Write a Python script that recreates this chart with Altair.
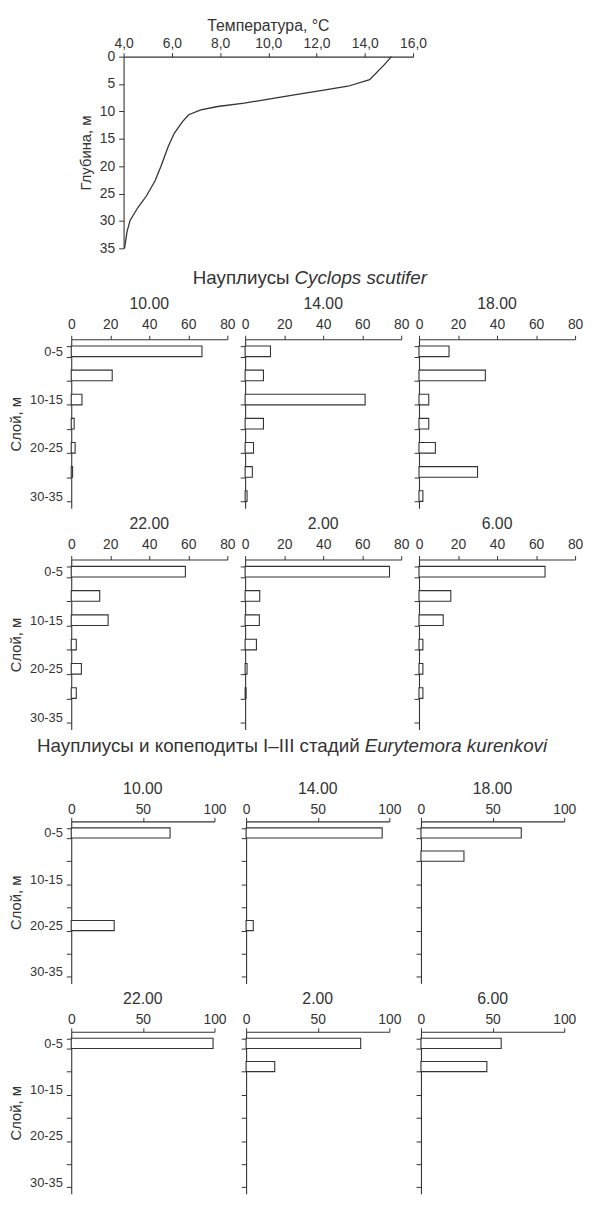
import altair as alt
import pandas as pd

FONT = "Liberation Sans"
INK = "#333333"

# ---- temperature profile ----
temp_depth = [0, 1.5, 4.2, 5.4, 6.1, 6.9, 7.6, 8.5, 9.1, 9.7, 10.6, 11.8, 14.0, 16.4, 20.0, 22.7, 25.4, 27.5, 29.9, 32.0, 35.0]
temp_value = [15.1, 14.8, 14.2, 13.3, 12.3, 11.2, 10.2, 9.0, 7.9, 7.2, 6.7, 6.45, 6.1, 5.85, 5.55, 5.3, 4.95, 4.6, 4.27, 4.14, 4.04]
temp_ticks = [4, 6, 8, 10, 12, 14, 16]
depth_ticks = [0, 5, 10, 15, 20, 25, 30, 35]

# ---- layers and times ----
layers = ["0-5", "5-10", "10-15", "15-20", "20-25", "25-30", "30-35"]
shown_layers = ["0-5", "10-15", "20-25", "30-35"]
times_day = ["10.00", "14.00", "18.00"]
times_night = ["22.00", "2.00", "6.00"]

# ---- Cyclops scutifer nauplii ----
cyclops_1000 = [67, 21, 5.5, 1.5, 2, 0.7, 0]
cyclops_1400 = [13, 9.4, 61.5, 9.4, 4.3, 3.7, 1]
cyclops_1800 = [15.4, 34, 5, 5, 8.4, 30, 2]
cyclops_2200 = [58.5, 14.6, 18.9, 2.6, 5.2, 2.6, 0]
cyclops_0200 = [74, 7.5, 7.3, 5.8, 1, 0.5, 0]
cyclops_0600 = [64.6, 16.3, 12.4, 2, 2, 2, 0]
cyclops_ticks = [0, 20, 40, 60, 80]

# ---- Eurytemora kurenkovi nauplii & copepodites I-III ----
eury_1000 = [69, 0, 0, 0, 30, 0, 0]
eury_1400 = [95, 0, 0, 0, 5, 0, 0]
eury_1800 = [70, 30, 0, 0, 0, 0, 0]
eury_2200 = [99, 0, 0, 0, 0, 0, 0]
eury_0200 = [80, 20, 0, 0, 0, 0, 0]
eury_0600 = [56, 46, 0, 0, 0, 0, 0]
eury_ticks = [0, 50, 100]

title1_normal = "Науплиусы"
title1_italic = "Cyclops scutifer"
title2_normal = "Науплиусы и копеподиты I–III стадий"
title2_italic = "Eurytemora kurenkovi"


def bar_panel(values, time_label, ticks, width, height, first, label_pad, title_offset):
    df = pd.DataFrame({"layer": layers, "value": values})
    label_expr = "indexof(%s, datum.value) >= 0 ? datum.value : ''" % str(shown_layers).replace("'", '"')
    if first:
        yaxis = alt.Axis(title="Слой, м", labels=True, labelExpr=label_expr, tickBand="extent",
                         tickSize=5, labelPadding=4, titlePadding=6, labelFontSize=13, titleFontSize=15)
    else:
        yaxis = alt.Axis(title=None, labels=False, tickBand="extent", tickSize=5)
    return (
        alt.Chart(df, title=alt.TitleParams(time_label, fontSize=16, offset=title_offset))
        .transform_filter("datum.value > 0")
        .mark_bar(fill="white", stroke=INK, strokeWidth=1.1)
        .encode(
            x=alt.X("value:Q",
                    scale=alt.Scale(domain=[ticks[0], ticks[-1]], nice=False, zero=True),
                    axis=alt.Axis(orient="top", values=ticks, title=None, tickSize=4,
                                  labelPadding=label_pad, labelFontSize=14)),
            y=alt.Y("layer:N", sort=layers,
                    scale=alt.Scale(domain=layers, paddingInner=0.56, paddingOuter=0.28),
                    axis=yaxis),
        )
        .properties(width=width, height=height)
    )


def group_title(normal, italic, split_x, height, y, size):
    df = pd.DataFrame({"a": [normal], "b": [italic]})
    base = alt.Chart(df)
    t1 = base.mark_text(align="right", baseline="middle", fontSize=size, font=FONT, color=INK).encode(
        x=alt.value(split_x), y=alt.value(y), text="a:N")
    t2 = base.mark_text(align="left", baseline="middle", fontSize=size, font=FONT, color=INK,
                        fontStyle="italic").encode(
        x=alt.value(split_x + 5), y=alt.value(y), text="b:N")
    return alt.layer(t1, t2).properties(width=400, height=height)


temp_df = pd.DataFrame({"depth": temp_depth, "temp": temp_value})
temp = (
    alt.Chart(temp_df, title=alt.TitleParams("Температура, °C", fontSize=16, offset=3))
    .mark_line(color=INK, strokeWidth=1.3)
    .encode(
        x=alt.X("temp:Q", scale=alt.Scale(domain=[4, 16], nice=False, zero=False),
                axis=alt.Axis(orient="top", values=temp_ticks, title=None, tickSize=4, labelPadding=2,
                              labelFontSize=14,
                              labelExpr="replace(format(datum.value, '.1f'), '.', ',')")),
        y=alt.Y("depth:Q", scale=alt.Scale(domain=[0, 35], reverse=True, nice=False, zero=True),
                axis=alt.Axis(values=depth_ticks, title="Глубина, м", tickSize=5, labelPadding=4,
                              titlePadding=6, labelFontSize=14, titleFontSize=15)),
        order="depth:Q",
    )
    .properties(width=293, height=194)
)

spacer = (
    alt.Chart(pd.DataFrame({"s": [""]}))
    .mark_text()
    .encode(text="s:N", x=alt.value(10), y=alt.value(10))
    .properties(width=53, height=20)
)

day_c = [cyclops_1000, cyclops_1400, cyclops_1800]
night_c = [cyclops_2200, cyclops_0200, cyclops_0600]
day_e = [eury_1000, eury_1400, eury_1800]
night_e = [eury_2200, eury_0200, eury_0600]

row1 = alt.hconcat(*[bar_panel(v, t, cyclops_ticks, 158, 171, i == 0, 4, 6)
                     for i, (v, t) in enumerate(zip(day_c, times_day))], spacing=18, bounds="flush")
row2 = alt.hconcat(*[bar_panel(v, t, cyclops_ticks, 158, 172, i == 0, 4, 6)
                     for i, (v, t) in enumerate(zip(night_c, times_night))], spacing=18, bounds="flush")
row3 = alt.hconcat(*[bar_panel(v, t, eury_ticks, 145, 164, i == 0, 1, 6)
                     for i, (v, t) in enumerate(zip(day_e, times_day))], spacing=32, bounds="flush")
row4 = alt.hconcat(*[bar_panel(v, t, eury_ticks, 145, 164, i == 0, 1, 6)
                     for i, (v, t) in enumerate(zip(night_e, times_night))], spacing=32, bounds="flush")

g1 = group_title(title1_normal, title1_italic, 221, 22, 15, 19)
g2 = group_title(title2_normal, title2_italic, 292, 33, 6, 19)

chart = (
    alt.vconcat(alt.hconcat(spacer, temp, spacing=0, bounds="flush"), g1, row1, row2, g2, row3, row4, spacing=8)
    .properties(padding={"left": 0, "top": 3, "right": 0, "bottom": 0})
    .configure_view(strokeWidth=0)
    .configure_axis(grid=False, labelFlush=False, labelFont=FONT, titleFont=FONT, labelColor=INK,
                    titleColor=INK, domainColor=INK, tickColor=INK, titleFontWeight="normal",
                    domainWidth=1.1, tickWidth=1)
    .configure_title(font=FONT, fontWeight="normal", color=INK)
)

chart.save("out.html", embed_options={"renderer": "svg", "actions": False})
